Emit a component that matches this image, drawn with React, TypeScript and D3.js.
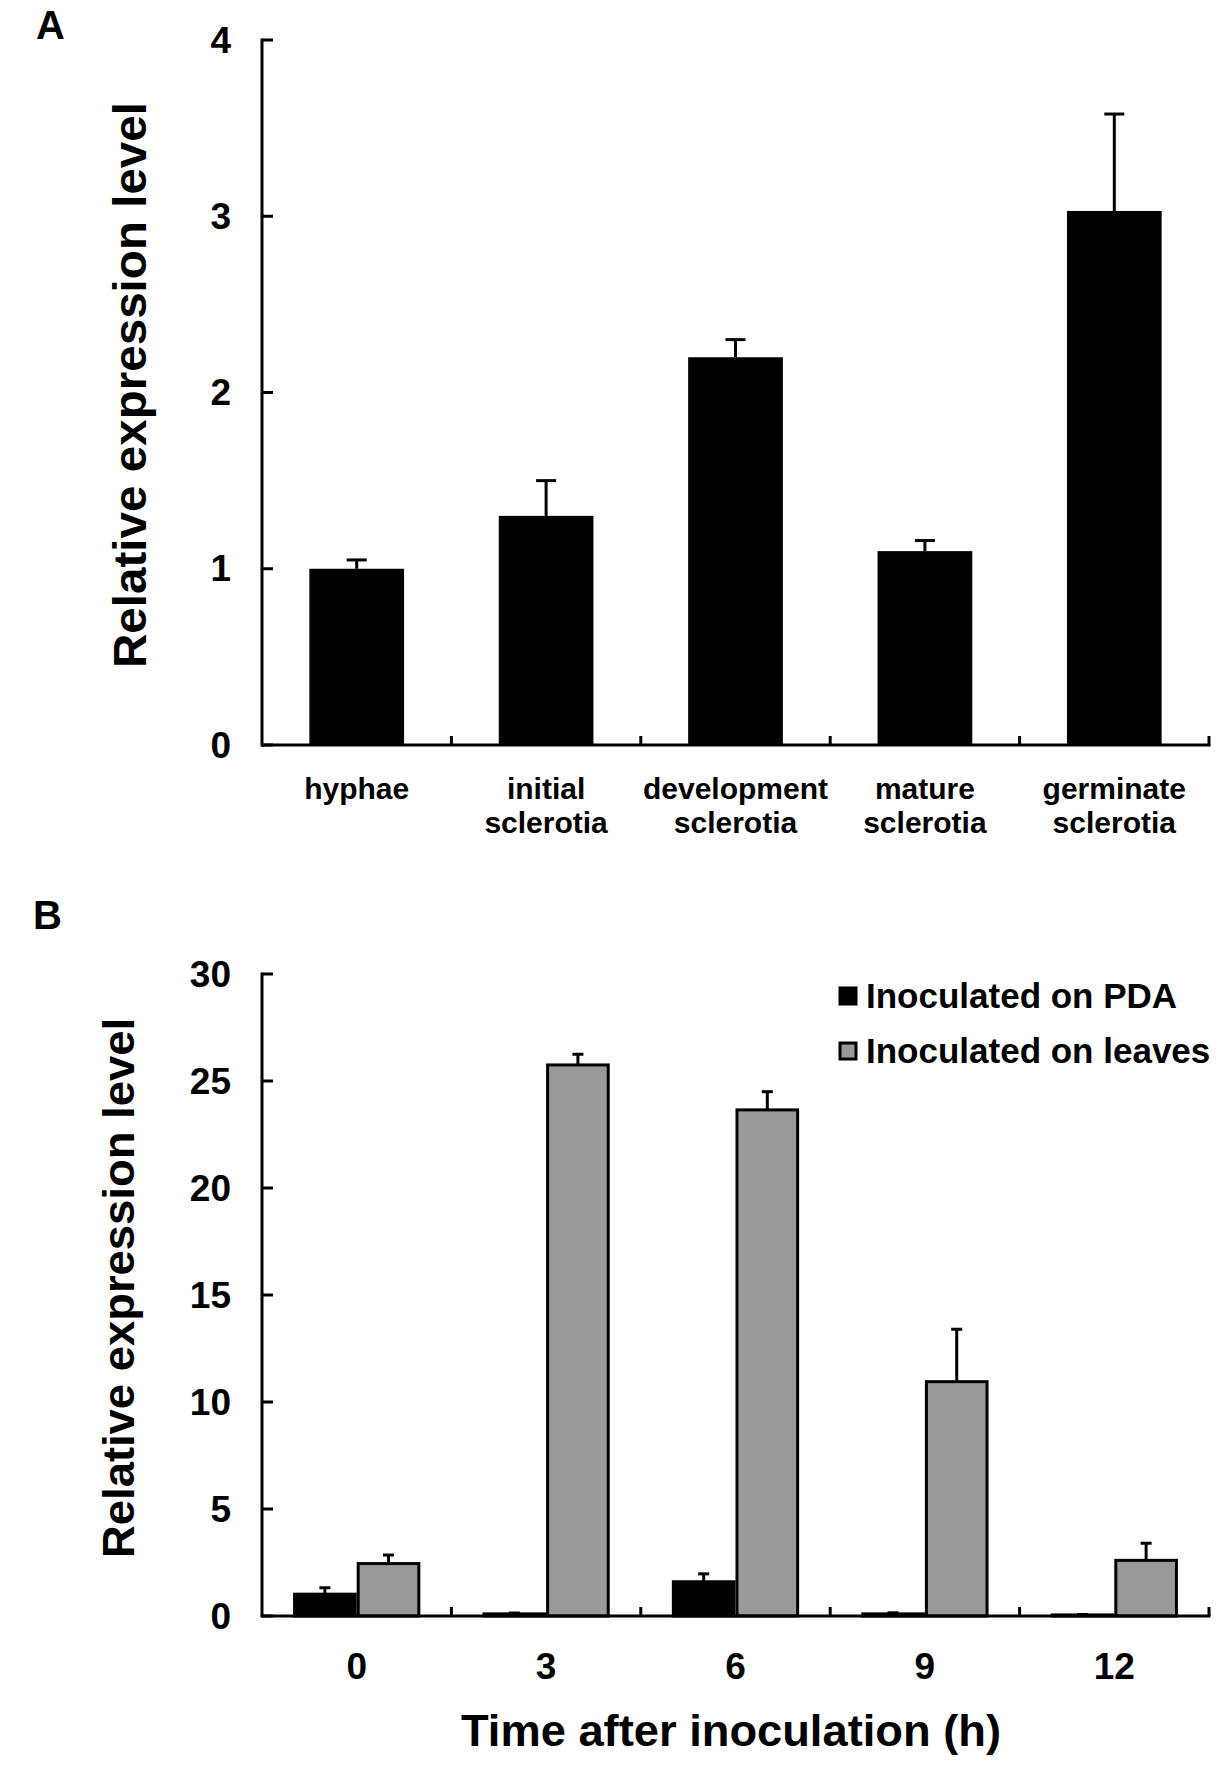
import React, { useRef, useEffect } from "react";
import * as d3 from "d3";

// Panel A: expression across developmental stages
const stageLines: string[][] = [
  ["hyphae"],
  ["initial", "sclerotia"],
  ["development", "sclerotia"],
  ["mature", "sclerotia"],
  ["germinate", "sclerotia"],
];
const stageValues = [1.0, 1.3, 2.2, 1.1, 3.03];
const stageErrors = [0.05, 0.2, 0.1, 0.06, 0.55];
const stageTicks = [0, 1, 2, 3, 4];

// Panel B: time course after inoculation
const hours = ["0", "3", "6", "9", "12"];
const seriesNames = ["Inoculated on PDA", "Inoculated on leaves"];
const pdaValues = [1.02, 0.1, 1.6, 0.1, 0.05];
const pdaErrors = [0.3, 0.04, 0.37, 0.05, 0.02];
const leafValues = [2.45, 25.75, 23.65, 10.95, 2.6];
const leafErrors = [0.4, 0.5, 0.85, 2.45, 0.8];
const timeTicks = [0, 5, 10, 15, 20, 25, 30];

const FONT = "'Liberation Sans', Arial, Helvetica, sans-serif";
const seriesColors = ["#000000", "#999999"];

export default function App() {
  const svgRef = useRef<SVGSVGElement>(null);

  useEffect(() => {
    if (!svgRef.current) return;
    const svg = d3.select(svgRef.current);
    svg.selectAll("*").remove();

    const width = 1222;
    const height = 1765;
    svg.attr("width", width).attr("height", height).attr("viewBox", `0 0 ${width} ${height}`);
    svg.append("rect").attr("width", width).attr("height", height).attr("fill", "#fff");

    const left = 262;
    const right = 1209;

    const txt = (x: number, y: number, s: string, size: number) =>
      svg
        .append("text")
        .attr("x", x)
        .attr("y", y)
        .attr("font-family", FONT)
        .attr("font-weight", "bold")
        .attr("font-size", size)
        .attr("fill", "#000")
        .text(s);

    // axes frame: y axis with inward ticks, x axis with upward ticks at band edges
    const drawAxes = (
      y: d3.ScaleLinear<number, number>,
      x: d3.ScaleBand<string>,
      ticks: number[],
      labelSize: number
    ) => {
      const [y0, y1] = y.range();
      svg.append("line")
        .attr("x1", left).attr("x2", left)
        .attr("y1", y1 - 1.5).attr("y2", y0 + 1.5)
        .attr("stroke", "#000").attr("stroke-width", 3);
      svg.append("line")
        .attr("x1", left).attr("x2", right + 1.5)
        .attr("y1", y0).attr("y2", y0)
        .attr("stroke", "#000").attr("stroke-width", 3);
      ticks.forEach((t) => {
        svg.append("line")
          .attr("x1", left).attr("x2", left + 11)
          .attr("y1", y(t)).attr("y2", y(t))
          .attr("stroke", "#000").attr("stroke-width", 3);
        txt(231, y(t), String(t), labelSize)
          .attr("text-anchor", "end")
          .attr("dominant-baseline", "central");
      });
      x.domain().forEach((d) => {
        const xe = (x(d) || 0) + x.bandwidth();
        svg.append("line")
          .attr("x1", xe).attr("x2", xe)
          .attr("y1", y0).attr("y2", y0 - 9)
          .attr("stroke", "#000").attr("stroke-width", 3);
      });
    };

    const errorBar = (cx: number, yTop: number, yErr: number, cap: number) => {
      svg.append("line")
        .attr("x1", cx).attr("x2", cx)
        .attr("y1", yTop).attr("y2", yErr)
        .attr("stroke", "#000").attr("stroke-width", 3);
      svg.append("line")
        .attr("x1", cx - cap).attr("x2", cx + cap)
        .attr("y1", yErr).attr("y2", yErr)
        .attr("stroke", "#000").attr("stroke-width", 3);
    };

    // ---------- Panel A ----------
    const stageKeys = stageLines.map((l) => l.join(" "));
    const xA = d3.scaleBand().domain(stageKeys).range([left, right]).paddingInner(0).paddingOuter(0);
    const yA = d3.scaleLinear().domain([0, 4]).range([745, 40]);
    const barWA = xA.bandwidth() * 0.5;

    stageKeys.forEach((k, i) => {
      const cx = (xA(k) || 0) + xA.bandwidth() / 2;
      svg.append("rect")
        .attr("x", cx - barWA / 2)
        .attr("y", yA(stageValues[i]))
        .attr("width", barWA)
        .attr("height", yA(0) - yA(stageValues[i]))
        .attr("fill", "#000");
      errorBar(cx, yA(stageValues[i]), yA(stageValues[i] + stageErrors[i]), 10);
      stageLines[i].forEach((line, li) => {
        txt(cx, 799 + li * 34, line, 30).attr("text-anchor", "middle");
      });
    });
    drawAxes(yA, xA, stageTicks, 37);

    txt(0, 0, "Relative expression level", 46)
      .attr("text-anchor", "middle")
      .attr("textLength", 566)
      .attr("lengthAdjust", "spacingAndGlyphs")
      .attr("transform", `translate(146,385) rotate(-90)`);
    txt(36, 39, "A", 40);

    // ---------- Panel B ----------
    const xB = d3.scaleBand().domain(hours).range([left, right]).paddingInner(0).paddingOuter(0);
    const xSub = d3
      .scaleBand()
      .domain(seriesNames)
      .range([xB.bandwidth() * 0.164, xB.bandwidth() * 0.836])
      .padding(0);
    const yB = d3.scaleLinear().domain([0, 30]).range([1616, 974]);

    const seriesVals = [pdaValues, leafValues];
    const seriesErrs = [pdaErrors, leafErrors];

    hours.forEach((h, i) => {
      seriesNames.forEach((s, si) => {
        const x0 = (xB(h) || 0) + (xSub(s) || 0);
        const v = seriesVals[si][i];
        const cx = x0 + xSub.bandwidth() / 2;
        errorBar(cx, yB(v), yB(v + seriesErrs[si][i]), 5.5);
        svg.append("rect")
          .attr("x", x0 + 1.5)
          .attr("y", yB(v))
          .attr("width", xSub.bandwidth() - 3)
          .attr("height", Math.max(0, yB(0) - yB(v)))
          .attr("fill", seriesColors[si])
          .attr("stroke", "#000")
          .attr("stroke-width", 3);
      });
      txt((xB(h) || 0) + xB.bandwidth() / 2, 1679, h, 37).attr("text-anchor", "middle");
    });
    drawAxes(yB, xB, timeTicks, 37);

    txt(0, 0, "Relative expression level", 44)
      .attr("text-anchor", "middle")
      .attr("textLength", 540)
      .attr("lengthAdjust", "spacingAndGlyphs")
      .attr("transform", `translate(134,1288) rotate(-90)`);
    txt(731, 1746, "Time after inoculation (h)", 45)
      .attr("text-anchor", "middle")
      .attr("textLength", 540)
      .attr("lengthAdjust", "spacingAndGlyphs");
    txt(33, 929, "B", 40);

    // Legend
    seriesNames.forEach((s, i) => {
      const ly = 988 + i * 55;
      svg.append("rect")
        .attr("x", 840)
        .attr("y", ly)
        .attr("width", 16)
        .attr("height", 16)
        .attr("fill", seriesColors[i])
        .attr("stroke", "#000")
        .attr("stroke-width", 3);
      txt(866, ly + 20, s, 35);
    });
  }, []);

  return (
    <div style={{ position: "absolute", left: 0, top: 0 }}>
      <svg ref={svgRef} style={{ display: "block" }} />
    </div>
  );
}
